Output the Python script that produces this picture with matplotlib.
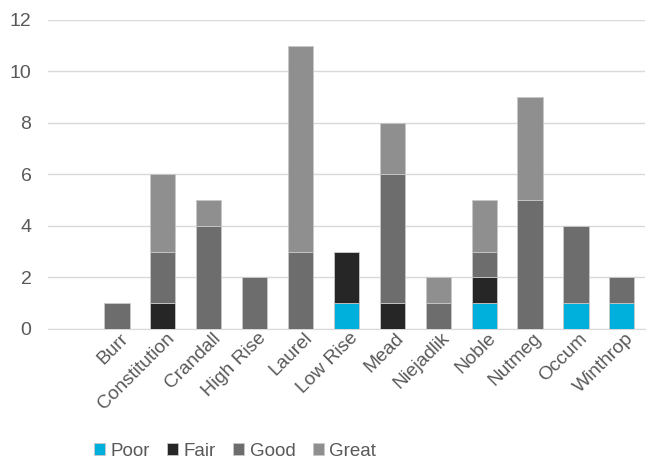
import matplotlib
matplotlib.use("Agg")
import matplotlib.pyplot as plt
import matplotlib.transforms as mtrans
import numpy as np

categories = ["Burr", "Constitution", "Crandall", "High Rise", "Laurel", "Low Rise",
              "Mead", "Niejadlik", "Noble", "Nutmeg", "Occum", "Winthrop"]
poor  = [0, 0, 0, 0, 0, 1, 0, 0, 1, 0, 1, 1]
fair  = [0, 1, 0, 0, 0, 2, 1, 0, 1, 0, 0, 0]
good  = [1, 2, 4, 2, 3, 0, 5, 1, 1, 5, 3, 1]
great = [0, 3, 1, 0, 8, 0, 2, 1, 2, 4, 0, 0]
series_names = ["Poor", "Fair", "Good", "Great"]
colors = ["#00B0DC", "#262626", "#6D6D6D", "#8F8F8F"]

plt.rcParams['font.family'] = ['Liberation Sans Narrow', 'Liberation Sans', 'DejaVu Sans']

fig = plt.figure(figsize=(6.5, 4.62), dpi=100)
ax = fig.add_axes([0.074, 0.288, 0.918, 0.669])

x = np.arange(len(categories))
bottom = np.zeros(len(categories))
for name, vals, c in zip(series_names, [poor, fair, good, great], colors):
    vals = np.array(vals, dtype=float)
    ax.bar(x, vals, 0.55, bottom=bottom, color=c, edgecolor="#c8c8c8",
           linewidth=0.6, label=name, zorder=3)
    bottom += vals

ax.set_xlim(-1.5, 11.5)
ax.set_ylim(0, 12)
ax.set_yticks(range(0, 13, 2))
ax.yaxis.grid(True, color="#d9d9d9", linewidth=1, zorder=0)
for s in ["top", "right", "left"]:
    ax.spines[s].set_visible(False)
ax.spines["bottom"].set_color("#d9d9d9")
ax.tick_params(axis="both", length=0, colors="#595959", labelsize=14)
ax.tick_params(axis="y", pad=12)

ax.set_xticks(x)
ax.set_xticklabels(categories, rotation=45, ha="right", va="center",
                   rotation_mode="anchor", fontsize=13.8, color="#595959")
offset = mtrans.ScaledTranslation(9/100, -2/100, fig.dpi_scale_trans)
for lbl in ax.get_xticklabels():
    lbl.set_transform(lbl.get_transform() + offset)

leg = fig.legend(loc="center", bbox_to_anchor=(235/650, 1 - 451/462), ncol=4,
                 frameon=False, fontsize=13.5, handlelength=0.6, handleheight=0.6,
                 handletextpad=0.3, columnspacing=0.9, borderaxespad=0)
for t in leg.get_texts():
    t.set_color("#595959")

fig.savefig("out.png", dpi=100)
